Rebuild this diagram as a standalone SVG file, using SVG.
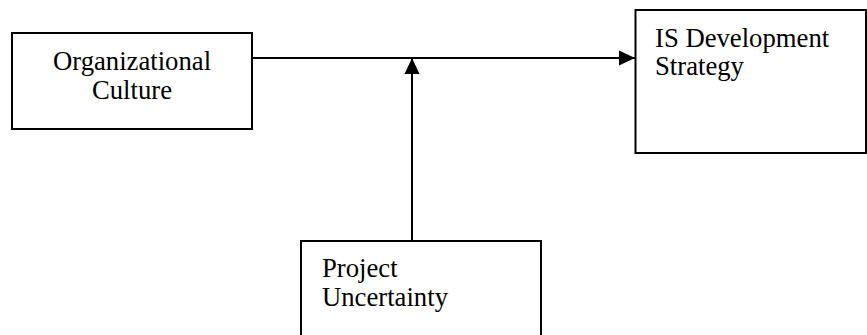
<svg xmlns="http://www.w3.org/2000/svg" width="867" height="335" viewBox="0 0 867 335">
<defs>
<style>
.box{fill:#fff;stroke:#000;stroke-width:2}
.t{font-family:"Liberation Serif","Times New Roman",serif;font-size:26.7px;fill:#000}
.ln{stroke:#000;stroke-width:2;fill:none}
</style>
<marker id="ah" markerWidth="16" markerHeight="16" viewBox="0 0 16 16" refX="16" refY="8" orient="auto" markerUnits="userSpaceOnUse">
<path d="M0,0.5 L16,8 L0,15.5 Z" fill="#000"/>
</marker>
</defs>
<rect width="867" height="335" fill="#fff"/>
<g id="connectors">
<line class="ln" x1="252" y1="58" x2="635" y2="58" marker-end="url(#ah)"/>
<line class="ln" x1="412" y1="241" x2="412" y2="58" marker-end="url(#ah)"/>
</g>
<g id="org-culture">
<rect class="box" x="12" y="33" width="240" height="96"/>
<text class="t" x="132" y="70" text-anchor="middle">Organizational</text>
<text class="t" x="132" y="99" text-anchor="middle">Culture</text>
</g>
<g id="is-strategy">
<rect class="box" x="635.5" y="10" width="230.5" height="143"/>
<text class="t" x="655" y="47">IS Development</text>
<text class="t" x="655" y="75">Strategy</text>
</g>
<g id="project-uncertainty">
<rect class="box" x="301" y="241" width="240" height="110"/>
<text class="t" x="322" y="277">Project</text>
<text class="t" x="322" y="306">Uncertainty</text>
</g>
</svg>
